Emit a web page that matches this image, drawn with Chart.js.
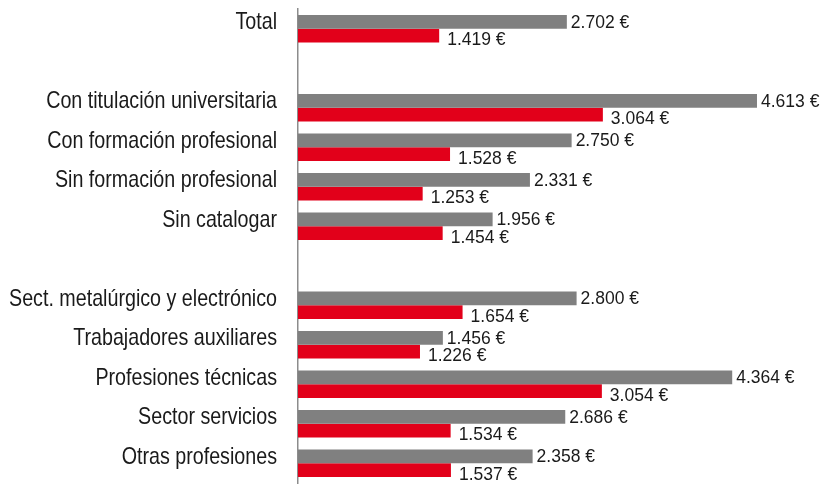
<!DOCTYPE html>
<html>
<head>
<meta charset="utf-8">
<script src="https://cdn.jsdelivr.net/npm/chart.js@4/dist/chart.umd.min.js"></script>
<style>
html,body{margin:0;padding:0;background:#fff;}
#wrap{width:823px;height:484px;}
</style>
</head>
<body>
<div id="wrap"><canvas id="c" width="823" height="484"></canvas></div>
<script>
const categories = ['Total', '', 'Con titulación universitaria', 'Con formación profesional', 'Sin formación profesional', 'Sin catalogar', '', 'Sect. metalúrgico y electrónico', 'Trabajadores auxiliares', 'Profesiones técnicas', 'Sector servicios', 'Otras profesiones'];
const seriesGray = [2702, null, 4613, 2750, 2331, 1956, null, 2800, 1456, 4364, 2686, 2358];
const seriesRed = [1419, null, 3064, 1528, 1253, 1454, null, 1654, 1226, 3054, 1534, 1537];

function fmt(v){
  return v.toString().replace(/\B(?=(\d{3})+(?!\d))/g, '.') + ' €';
}

const labelPlugin = {
  id: 'valueLabels',
  afterDatasetsDraw(chart){
    const ctx = chart.ctx;
    ctx.save();
    ctx.font = '17.5px "Liberation Sans", Arial, sans-serif';
    ctx.fillStyle = '#1a1a1a';
    ctx.textBaseline = 'middle';
    ctx.textAlign = 'left';
    chart.data.datasets.forEach((ds, di) => {
      const meta = chart.getDatasetMeta(di);
      meta.data.forEach((bar, i) => {
        const v = ds.data[i];
        if (v === null || v === undefined) return;
        const dx = di === 0 ? 4 : 8;
        const dy = di === 0 ? 1 : 5;
        ctx.fillText(fmt(v), bar.x + dx, bar.y + dy);
      });
    });
    ctx.restore();
  }
};

// Category labels drawn in a condensed (narrow) style
const catLabelPlugin = {
  id: 'catLabels',
  afterDraw(chart){
    const ctx = chart.ctx;
    const y = chart.scales.y;
    const sx = 0.82;
    const rightX = 277;
    ctx.save();
    ctx.font = '24px "Liberation Sans", Arial, sans-serif';
    ctx.fillStyle = '#1a1a1a';
    ctx.textBaseline = 'middle';
    ctx.textAlign = 'right';
    ctx.scale(sx, 1);
    chart.data.labels.forEach((lab, i) => {
      if (!lab) return;
      ctx.fillText(lab, rightX / sx, y.getPixelForValue(i) - 6);
    });
    ctx.restore();
  }
};

new Chart(document.getElementById('c'), {
  type: 'bar',
  data: {
    labels: categories,
    datasets: [
      { data: seriesGray, backgroundColor: '#808080', borderWidth: 0, categoryPercentage: 0.7, barPercentage: 1 },
      { data: seriesRed, backgroundColor: '#E2001A', borderWidth: 0, categoryPercentage: 0.7, barPercentage: 1 }
    ]
  },
  options: {
    indexAxis: 'y',
    responsive: false,
    animation: false,
    devicePixelRatio: 1,
    layout: { padding: { top: 9, bottom: 1, left: 0, right: 27.5 } },
    plugins: { legend: { display: false }, tooltip: { enabled: false } },
    scales: {
      x: { display: false, min: 0, max: 5000 },
      y: {
        grid: { display: false, drawTicks: false },
        border: { display: true, color: '#8c8c8c', width: 1.5 },
        ticks: { display: false, padding: 0 },
        afterFit(scale){ scale.width = 298; scale.paddingTop = 0; scale.paddingBottom = 0; }
      }
    }
  },
  plugins: [labelPlugin, catLabelPlugin]
});
</script>
</body>
</html>
